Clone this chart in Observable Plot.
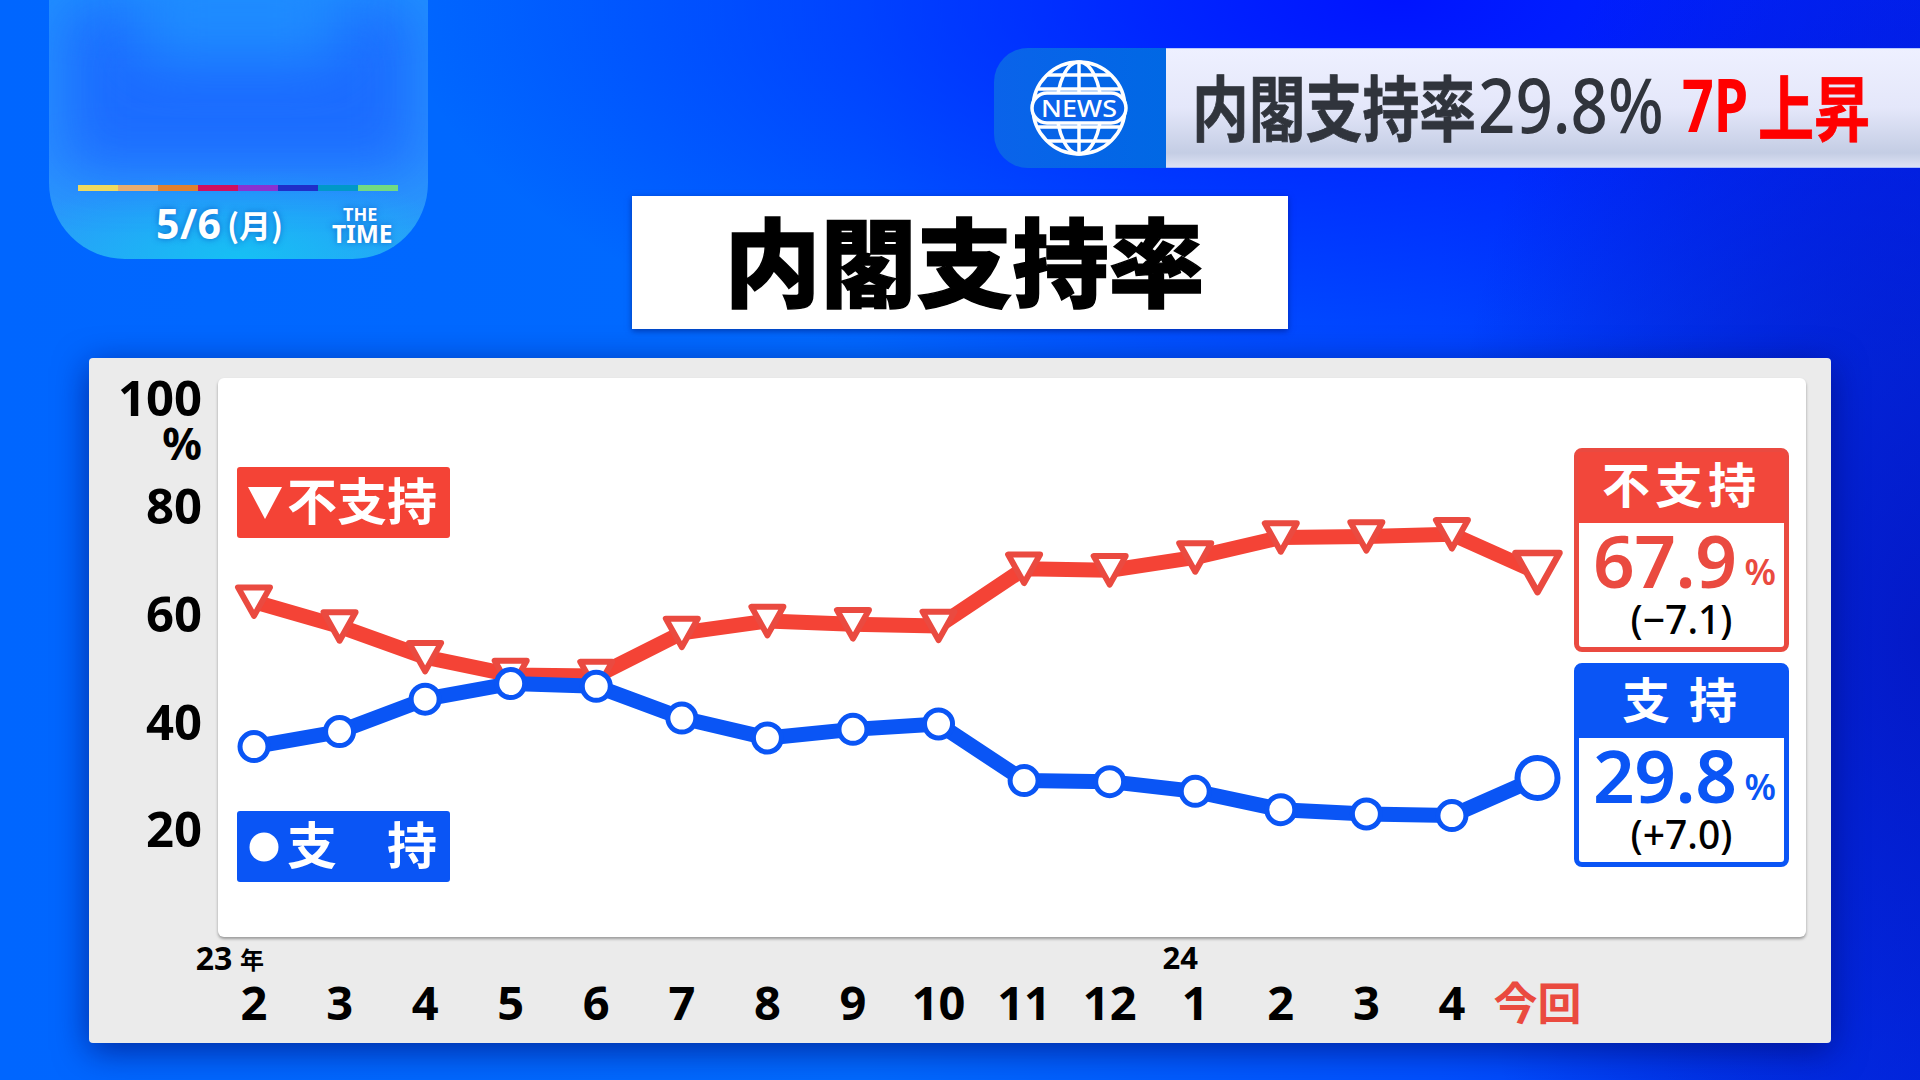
<!DOCTYPE html>
<html lang="ja">
<head>
<meta charset="utf-8">
<script src="https://cdn.jsdelivr.net/npm/d3@7"></script>
<script src="https://cdn.jsdelivr.net/npm/@observablehq/plot@0.6"></script>
<style>
  html,body{margin:0;padding:0;width:1920px;height:1080px;overflow:hidden}
  body{position:relative;font-family:"Noto Sans CJK JP","Noto Sans",sans-serif;
    background:
      radial-gradient(ellipse 480px 900px at 1920px 640px, rgba(5,20,190,.8), rgba(5,20,190,0) 100%),
      radial-gradient(ellipse 1000px 420px at 1400px 0px, rgba(0,20,255,1), rgba(0,20,255,0) 100%),
      linear-gradient(90deg,#0066ff 0%,#006aff 45%,#0050ff 75%,#0030f0 100%);}
  .abs{position:absolute;box-sizing:border-box}
  .num{font-family:"Noto Sans","Noto Sans CJK JP",sans-serif}
  #time{left:49px;top:0;width:379px;height:259px;border-radius:0 0 76px 76px;overflow:hidden;
    background:radial-gradient(ellipse 240px 90px at 50% 100%,#16c0f4 0%,rgba(22,192,244,0) 100%),linear-gradient(180deg,#2090ff,#2a90ff 60%,#2a9cf8)}
  #time .blur1{left:15px;top:5px;width:350px;height:165px;background:#1a66ff;filter:blur(28px);opacity:.85}
  #time .blur2{left:90px;top:-30px;width:200px;height:90px;background:#1f8fff;filter:blur(30px);opacity:.9}
  #strip{left:29px;top:185px;width:320px;height:6px;display:flex}
  #strip i{flex:1;display:block}
  .shadowtxt{color:#fff;font-weight:700;text-shadow:0 0 6px rgba(0,60,180,.6);white-space:nowrap}
  #head-left{left:994px;top:48px;width:180px;height:120px;border-radius:34px 0 0 34px;background:linear-gradient(90deg,#0a63ea,#0068e4)}
  #head{left:1166px;top:48px;width:754px;height:120px;background:linear-gradient(180deg,#eef0ff 0%,#e4e7fa 50%,#c4cde4 88%,#dde2f4 100%);border-top:1px solid #b8c8ff;border-bottom:1px solid #a8bcff}
  .headtxt{top:58px;height:92px;line-height:92px;font-size:71px;font-weight:700;white-space:nowrap;transform-origin:0 50%}
  #title{left:632px;top:196px;width:656px;height:133px;padding-left:9px;background:#fff;box-shadow:0 2px 6px rgba(0,20,110,.55);
    text-align:center;line-height:124px;font-size:96px;font-weight:900;color:#000;-webkit-text-stroke:1.5px #000}
  #panel{left:89px;top:358px;width:1742px;height:685px;background:#ebebeb;border-radius:4px;box-shadow:0 8px 34px rgba(0,10,110,.65)}
  #white{left:218px;top:378px;width:1588px;height:559px;background:#fff;border-radius:6px;box-shadow:0 2px 3px rgba(0,0,0,.35)}
  #plot{left:89px;top:358px}
  .legend{left:237px;width:213px;height:71px;border-radius:3px;color:#fff;font-weight:700;font-size:50px;line-height:71px}
  .legend span{position:absolute;top:-4px}
  .box{left:1574px;width:215px;height:204px;border-radius:8px;border:5px solid;background:#fff;text-align:center}
  .box .hd{position:absolute;left:-1px;right:-1px;top:-1px;height:71px;line-height:60px;color:#fff;font-weight:700;font-size:48px}
  .box .val{position:absolute;left:14px;top:71px;font-size:73px;font-weight:600;line-height:72px;white-space:nowrap;letter-spacing:-.5px}
  .box .pct{font-size:36px;margin-left:8px;font-weight:600;position:relative;top:-3px}
  .box .dl{position:absolute;left:0;right:0;top:144px;line-height:44px;font-size:39px;font-weight:500;color:#000}
</style>
</head>
<body>
<div class="abs" id="time">
  <div class="abs blur1"></div>
  <div class="abs blur2"></div>
  <div class="abs" id="strip"></div>
  <div class="abs shadowtxt num" style="left:107px;top:200px;font-size:41px;line-height:46px;letter-spacing:.5px">5/6</div>
  <div class="abs shadowtxt" style="left:178px;top:203px;font-size:32px;line-height:42px">(月)</div>
  <div class="abs shadowtxt num" style="left:294px;top:206px;font-size:18px;line-height:17px">THE</div>
  <div class="abs shadowtxt num" style="left:283px;top:224px;font-size:24.5px;line-height:20px">TIME</div>
</div>
<div class="abs" id="head-left"></div>
<svg class="abs" style="left:1030px;top:58px" width="98" height="100" viewBox="-49 -50 98 100">
  <g fill="none" stroke="#fff" stroke-width="3.5">
    <circle r="46"/><ellipse rx="22" ry="46"/><line x1="0" x2="0" y1="-46" y2="46"/>
    <line x1="-32" x2="32" y1="-33" y2="-33"/><line x1="-42" x2="42" y1="-19" y2="-19"/>
    <line x1="-42" x2="42" y1="19" y2="19"/><line x1="-32" x2="32" y1="33" y2="33"/>
  </g>
  <rect x="-47" y="-15" width="94" height="30" rx="15" fill="#0a63ea" stroke="#fff" stroke-width="3.5"/>
  <text x="0" y="9" text-anchor="middle" fill="#fff" font-family="Noto Sans" font-weight="500" font-size="24" textLength="76" lengthAdjust="spacingAndGlyphs">NEWS</text>
</svg>
<div class="abs" id="head"></div>
<div class="abs headtxt" style="left:1192px;color:#30343c;transform:scaleX(.8);-webkit-text-stroke:.8px #30343c">内閣支持率</div>
<div class="abs headtxt num" style="left:1478px;color:#30343c;font-weight:500;font-size:76px;transform:scaleX(.86)">29.8%</div>
<div class="abs headtxt num" style="left:1682px;color:#f00;font-size:74px;transform:scaleX(.75)">7P</div>
<div class="abs headtxt" style="left:1758px;color:#f00;transform:scaleX(.79);-webkit-text-stroke:.8px #f00">上昇</div>
<div class="abs" id="title">内閣支持率</div>
<div class="abs" id="panel"></div>
<div class="abs" id="white"></div>
<div class="abs" id="plot"></div>
<div class="abs legend" style="top:467px;background:#f44336">
  <svg style="position:absolute;left:10px;top:19px" width="36" height="34"><path d="M1 1H35L18 33Z" fill="#fff"/></svg>
  <span style="left:50px">不支持</span>
</div>
<div class="abs legend" style="top:811px;background:#0a55f5">
  <svg style="position:absolute;left:12px;top:21px" width="30" height="30"><circle cx="15" cy="15" r="14.5" fill="#fff"/></svg>
  <span style="left:50px">支</span><span style="left:150px">持</span>
</div>
<div class="abs box" id="boxD" style="top:448px;border-color:#ea4a40;color:#ea4a40"></div>
<div class="abs box" id="boxA" style="top:663px;border-color:#0a55f5;color:#0a55f5"></div>
<script>
// ---- data ----
const months      = ["2","3","4","5","6","7","8","9","10","11","12","1","2","3","4","今回"];
const approve     = [35.6,38.4,44.4,47.3,46.8,40.9,37.2,38.8,39.8,29.3,29.1,27.3,23.9,23.1,22.8,29.8];
const disapprove  = [62.5,57.9,52.2,48.9,48.7,56.7,58.9,58.3,58.0,68.6,68.3,70.7,74.4,74.6,75.0,67.9];
const yTicks      = [100,80,60,40,20];
const yearTicks   = [0,11];
const yearLabels  = ["23","24"];
const approveDelta    = "(+7.0)";
const disapproveDelta = "(−7.1)";
const stripColors = ["#efd95f","#e8ad70","#e0802f","#d00f5f","#8a32d0","#1f2fc8","#0098c8","#72da82"];

const RED = "#f44336", BLUE = "#0a55f5";
const idx = months.map((_, i) => i);
const past = idx.slice(0, -1), now = idx.slice(-1);
const FONT = '"Noto Sans","Noto Sans CJK JP",sans-serif';

// downward triangle symbol: size is r²π, half width = r
const triangleDown = {draw(ctx, size) {
  const r = Math.sqrt(size / Math.PI), h = r * 0.89;
  ctx.moveTo(-r, -h); ctx.lineTo(r, -h); ctx.lineTo(0, h); ctx.closePath();
}};

const chart = Plot.plot({
  width: 1742, height: 685,
  marginLeft: 164.5, marginRight: 294, marginTop: 41, marginBottom: 105,
  style: {background: "transparent", fontFamily: FONT, overflow: "visible", color: "#000"},
  x: {type: "linear", domain: [0, 15]},
  y: {domain: [0, 100]},
  marks: [
    Plot.axisY({ticks: yTicks, tickSize: 0, tickPadding: 52, fontSize: 49, fontWeight: 700, label: null, dy: 1}),
    Plot.axisX({ticks: past, tickSize: 0, tickPadding: 48, tickFormat: i => months[i], fontSize: 47, fontWeight: 700, label: null}),
    Plot.axisX({ticks: now, tickSize: 0, tickPadding: 50, tickFormat: i => months[i], fontSize: 44, fontWeight: 700, label: null, color: "#ea4a3f", fontFamily: '"Noto Sans CJK JP"'}),
    Plot.text(["%"], {x: 0, y: 100, text: d => d, textAnchor: "end", dx: -52, dy: 46, fontSize: 44, fontWeight: 700}),
    Plot.text([yearTicks[0]], {x: d => d, y: 0, text: i => yearLabels[0], dx: -40, dy: 21, fontSize: 32, fontWeight: 700}),
    Plot.text([yearTicks[0]], {x: d => d, y: 0, text: () => "年", dx: -2, dy: 23, fontSize: 24, fontWeight: 700, fontFamily: '"Noto Sans CJK JP"'}),
    Plot.text([yearTicks[1]], {x: d => d, y: 0, text: i => yearLabels[1], dx: -15, dy: 21, fontSize: 31, fontWeight: 700}),

    Plot.line(idx, {x: i => i, y: i => disapprove[i], stroke: RED, strokeWidth: 15, strokeLinejoin: "round"}),
    Plot.dot(past, {x: i => i, y: i => disapprove[i], symbol: triangleDown, r: 16, fill: "#fff", stroke: "#ea4a40", strokeWidth: 6, strokeLinejoin: "round"}),
    Plot.dot(now, {x: i => i, y: i => disapprove[i], symbol: triangleDown, r: 22, fill: "#fff", stroke: "#ea4a40", strokeWidth: 6.5, strokeLinejoin: "round"}),

    Plot.line(idx, {x: i => i, y: i => approve[i], stroke: BLUE, strokeWidth: 15, strokeLinejoin: "round"}),
    Plot.dot(past, {x: i => i, y: i => approve[i], r: 14, fill: "#fff", stroke: BLUE, strokeWidth: 5}),
    Plot.dot(now, {x: i => i, y: i => approve[i], r: 20, fill: "#fff", stroke: BLUE, strokeWidth: 6})
  ]
});
document.getElementById("plot").appendChild(chart);

document.getElementById("strip").innerHTML = stripColors.map(c => `<i style="background:${c}"></i>`).join("");
function fill(id, name, val, delta, color, spacing) {
  document.getElementById(id).innerHTML =
    `<div class="hd" style="background:${color};letter-spacing:${spacing}px">${name}</div>` +
    `<div class="val num">${val.toFixed(1)}<span class="pct">%</span></div>` +
    `<div class="dl num">${delta}</div>`;
}
fill("boxD", "不支持", disapprove[15], disapproveDelta, "#f2473b", 5);
fill("boxA", "支 持", approve[15], approveDelta, "#0a55f5", 4);
</script>
</body>
</html>
